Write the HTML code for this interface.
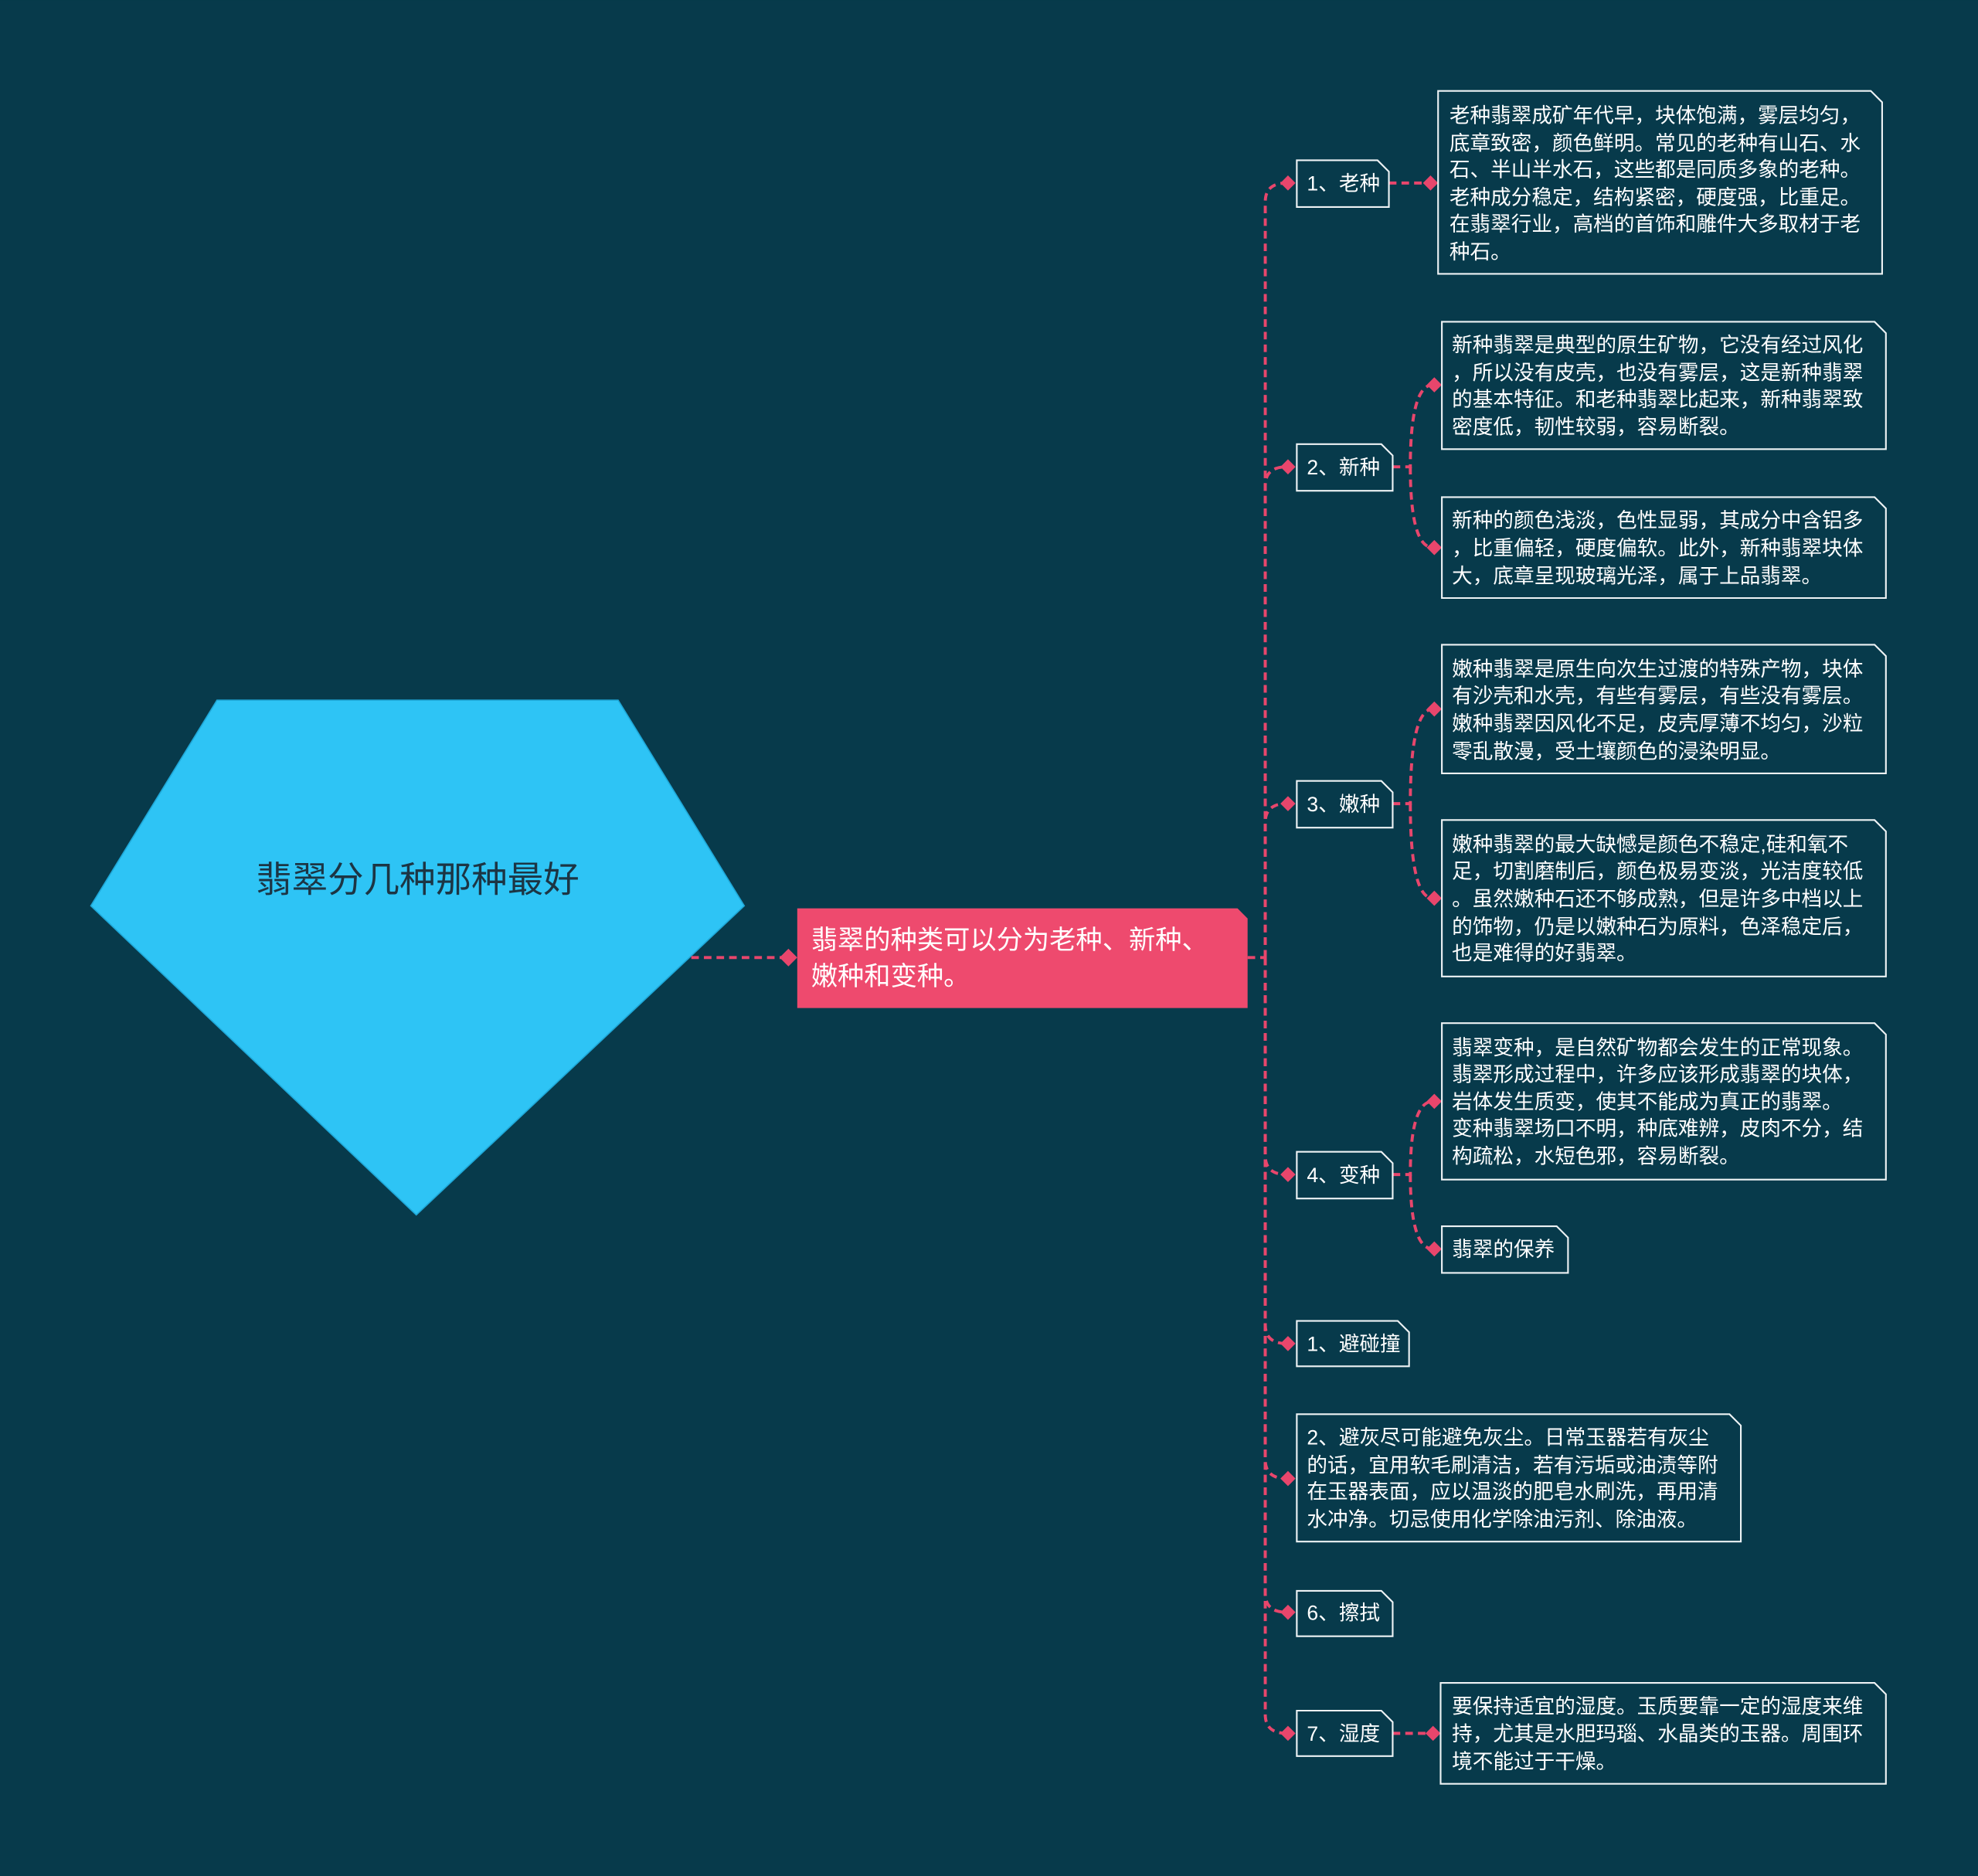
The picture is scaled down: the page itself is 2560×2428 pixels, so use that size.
<!DOCTYPE html>
<html><head><meta charset="utf-8"><style>
html,body{margin:0;padding:0;background:#073a4b;}
svg{display:block}
text{font-family:"Liberation Sans","Noto Sans CJK SC",sans-serif;}
.t{fill:#ffffff;font-size:16.3px;}
.b{fill:none;stroke:#eef3f5;stroke-width:1.3;}
.c{fill:none;stroke:#e8466c;stroke-width:2.4;stroke-dasharray:6 4;}
.d{fill:#e8466c;}
</style></head><body>
<svg width="2560" height="2428" viewBox="0 0 1568 1487" xmlns="http://www.w3.org/2000/svg">
<rect width="1568" height="1487" fill="#073a4b"/>
<polygon points="172,555 490,555 590,718 330,963 72,718" fill="#2ec4f5" stroke="#1fa8d8" stroke-width="1"/>
<text x="331" y="707" text-anchor="middle" font-size="28.5" fill="#1c3544">翡翠分几种那种最好</text>

<path class="c" d="M548,759 H625"/>
<path class="d" d="M625,752 l7,7 -7,7 -7,-7z"/>
<polygon points="632,720 981,720 989,728 989,799 632,799" fill="#ee4a6e"/>
<text x="643" y="752" font-size="21" fill="#fff">翡翠的种类可以分为老种、新种、</text>
<text x="643" y="781" font-size="21" fill="#fff">嫩种和变种。</text>

<g class="c">
<path d="M989,759 H1003"/>
<path d="M1003,759 V160 Q1003,145 1020,145"/>
<path d="M1003,759 V385 Q1003,370 1020,370"/>
<path d="M1003,759 V652 Q1003,637 1020,637"/>
<path d="M1003,759 V916 Q1003,931 1020,931"/>
<path d="M1003,759 V1050 Q1003,1065 1020,1065"/>
<path d="M1003,759 V1157 Q1003,1172 1020,1172"/>
<path d="M1003,759 V1263 Q1003,1278 1020,1278"/>
<path d="M1003,759 V1359 Q1003,1374 1020,1374"/>
<path d="M1101,145 H1133"/>
<path d="M1104,1374 H1135"/>
<path d="M1104,370 H1118 Q1118,305 1136,305"/>
<path d="M1118,370 Q1118,434 1136,434"/>
<path d="M1104,637 H1118 Q1118,562 1136,562"/>
<path d="M1118,637 Q1118,712 1136,712"/>
<path d="M1104,931 H1118 Q1118,873 1136,873"/>
<path d="M1118,931 Q1118,990 1136,990"/>
</g>
<g class="d">
<path d="M1021,139 l6,6 -6,6 -6,-6z"/>
<path d="M1021,364 l6,6 -6,6 -6,-6z"/>
<path d="M1021,631 l6,6 -6,6 -6,-6z"/>
<path d="M1021,925 l6,6 -6,6 -6,-6z"/>
<path d="M1021,1059 l6,6 -6,6 -6,-6z"/>
<path d="M1021,1166 l6,6 -6,6 -6,-6z"/>
<path d="M1021,1272 l6,6 -6,6 -6,-6z"/>
<path d="M1021,1368 l6,6 -6,6 -6,-6z"/>
<path d="M1134,139 l6,6 -6,6 -6,-6z"/>
<path d="M1137,299 l6,6 -6,6 -6,-6z"/>
<path d="M1137,428 l6,6 -6,6 -6,-6z"/>
<path d="M1137,556 l6,6 -6,6 -6,-6z"/>
<path d="M1137,706 l6,6 -6,6 -6,-6z"/>
<path d="M1137,867 l6,6 -6,6 -6,-6z"/>
<path d="M1137,984 l6,6 -6,6 -6,-6z"/>
<path d="M1136,1368 l6,6 -6,6 -6,-6z"/>
</g>

<path class="b" d="M1028,127 H1092 L1101,136 V164 H1028Z"/><text class="t" x="1036" y="151">1、老种</text>
<path class="b" d="M1028,352 H1095 L1104,361 V389 H1028Z"/><text class="t" x="1036" y="376">2、新种</text>
<path class="b" d="M1028,619 H1095 L1104,628 V656 H1028Z"/><text class="t" x="1036" y="643">3、嫩种</text>
<path class="b" d="M1028,913 H1095 L1104,922 V950 H1028Z"/><text class="t" x="1036" y="937">4、变种</text>
<path class="b" d="M1028,1047 H1108 L1117,1056 V1083 H1028Z"/><text class="t" x="1036" y="1071">1、避碰撞</text>
<path class="b" d="M1028,1121 H1371 L1380,1130 V1222 H1028Z"/>
<text class="t" x="1036" y="1145">2、避灰尽可能避免灰尘。日常玉器若有灰尘</text>
<text class="t" x="1036" y="1167">的话，宜用软毛刷清洁，若有污垢或油渍等附</text>
<text class="t" x="1036" y="1188">在玉器表面，应以温淡的肥皂水刷洗，再用清</text>
<text class="t" x="1036" y="1210">水冲净。切忌使用化学除油污剂、除油液。</text>
<path class="b" d="M1028,1261 H1095 L1104,1270 V1297 H1028Z"/><text class="t" x="1036" y="1284">6、擦拭</text>
<path class="b" d="M1028,1356 H1095 L1104,1365 V1392 H1028Z"/><text class="t" x="1036" y="1380">7、湿度</text>

<path class="b" d="M1140,72 H1483 L1492,81 V217 H1140Z"/>
<text class="t" x="1149" y="97">老种翡翠成矿年代早，块体饱满，雾层均匀，</text>
<text class="t" x="1149" y="119">底章致密，颜色鲜明。常见的老种有山石、水</text>
<text class="t" x="1149" y="140">石、半山半水石，这些都是同质多象的老种。</text>
<text class="t" x="1149" y="162">老种成分稳定，结构紧密，硬度强，比重足。</text>
<text class="t" x="1149" y="183">在翡翠行业，高档的首饰和雕件大多取材于老</text>
<text class="t" x="1149" y="205">种石。</text>

<path class="b" d="M1143,255 H1486 L1495,264 V356 H1143Z"/>
<text class="t" x="1151" y="279">新种翡翠是典型的原生矿物，它没有经过风化</text>
<text class="t" x="1151" y="301">，所以没有皮壳，也没有雾层，这是新种翡翠</text>
<text class="t" x="1151" y="322">的基本特征。和老种翡翠比起来，新种翡翠致</text>
<text class="t" x="1151" y="344">密度低，韧性较弱，容易断裂。</text>

<path class="b" d="M1143,394 H1486 L1495,403 V474 H1143Z"/>
<text class="t" x="1151" y="418">新种的颜色浅淡，色性显弱，其成分中含铝多</text>
<text class="t" x="1151" y="440">，比重偏轻，硬度偏软。此外，新种翡翠块体</text>
<text class="t" x="1151" y="462">大，底章呈现玻璃光泽，属于上品翡翠。</text>

<path class="b" d="M1143,511 H1486 L1495,520 V613 H1143Z"/>
<text class="t" x="1151" y="536">嫩种翡翠是原生向次生过渡的特殊产物，块体</text>
<text class="t" x="1151" y="557">有沙壳和水壳，有些有雾层，有些没有雾层。</text>
<text class="t" x="1151" y="579">嫩种翡翠因风化不足，皮壳厚薄不均匀，沙粒</text>
<text class="t" x="1151" y="601">零乱散漫，受土壤颜色的浸染明显。</text>

<path class="b" d="M1143,650 H1486 L1495,659 V774 H1143Z"/>
<text class="t" x="1151" y="675">嫩种翡翠的最大缺憾是颜色不稳定,硅和氧不</text>
<text class="t" x="1151" y="696">足，切割磨制后，颜色极易变淡，光洁度较低</text>
<text class="t" x="1151" y="718">。虽然嫩种石还不够成熟，但是许多中档以上</text>
<text class="t" x="1151" y="740">的饰物，仍是以嫩种石为原料，色泽稳定后，</text>
<text class="t" x="1151" y="761">也是难得的好翡翠。</text>

<path class="b" d="M1143,811 H1486 L1495,820 V935 H1143Z"/>
<text class="t" x="1151" y="836">翡翠变种，是自然矿物都会发生的正常现象。</text>
<text class="t" x="1151" y="857">翡翠形成过程中，许多应该形成翡翠的块体，</text>
<text class="t" x="1151" y="879">岩体发生质变，使其不能成为真正的翡翠。</text>
<text class="t" x="1151" y="900">变种翡翠场口不明，种底难辨，皮肉不分，结</text>
<text class="t" x="1151" y="922">构疏松，水短色邪，容易断裂。</text>

<path class="b" d="M1143,972 H1234 L1243,981 V1009 H1143Z"/>
<text class="t" x="1151" y="996">翡翠的保养</text>

<path class="b" d="M1142,1334 H1486 L1495,1343 V1414 H1142Z"/>
<text class="t" x="1151" y="1358">要保持适宜的湿度。玉质要靠一定的湿度来维</text>
<text class="t" x="1151" y="1380">持，尤其是水胆玛瑙、水晶类的玉器。周围环</text>
<text class="t" x="1151" y="1402">境不能过于干燥。</text>
</svg>
</body></html>
